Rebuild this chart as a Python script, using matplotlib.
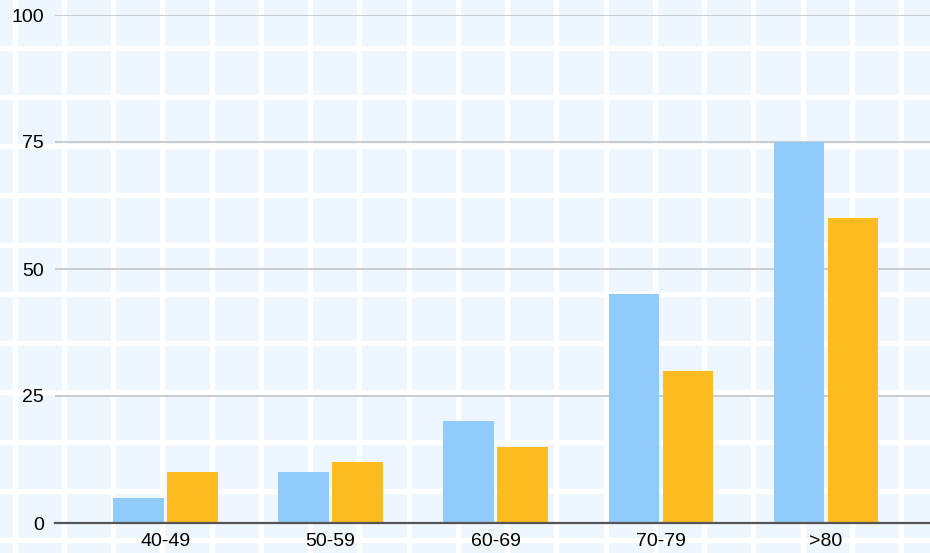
import numpy as np
import matplotlib.pyplot as plt

categories = ['40-49', '50-59', '60-69', '70-79', '>80']
series_a = [5, 10, 20, 45, 75]
series_b = [10, 12, 15, 30, 60]
y_ticks = [0, 25, 50, 75, 100]


def main():
    plt.rcParams['font.family'] = ['Liberation Sans', 'DejaVu Sans']
    fig = plt.figure(figsize=(9.3, 5.53), dpi=100)
    fig.patch.set_facecolor('white')

    # grid-paper background over the whole figure
    bg = fig.add_axes([0, 0, 1, 1], zorder=0)
    bg.set_xlim(0, 930)
    bg.set_ylim(553, 0)
    bg.set_facecolor('#eef6fe')
    step = 49.25
    for k in range(-1, 21):
        bg.axvline(14.5 + k * step, color='white', lw=3.8)
    for k in range(-1, 12):
        bg.axhline(47.5 + k * step, color='white', lw=3.8)
    for s in bg.spines.values():
        s.set_visible(False)
    bg.set_xticks([])
    bg.set_yticks([])

    ax = fig.add_axes([55 / 930, 30 / 553, 875 / 930, 508 / 553], zorder=1)
    ax.patch.set_alpha(0)
    x = np.arange(len(categories))
    w = 0.306
    off = 0.1635
    ax.bar(x - off, series_a, w, color='#90cbfb', zorder=3)
    ax.bar(x + off, series_b, w, color='#ffbc20', zorder=3)

    ax.set_xlim(-0.669, 4.63)
    ax.set_ylim(0, 100)
    ax.set_yticks(y_ticks)
    ax.set_xticks(x)
    ax.set_xticklabels(categories)
    ax.yaxis.grid(True, color='#c8c8c8', lw=1.3, zorder=1)
    ax.tick_params(axis='both', length=0, labelsize=14, colors='black')
    ax.tick_params(axis='y', pad=8)
    ax.tick_params(axis='x', pad=7)
    for s in ['top', 'right', 'left']:
        ax.spines[s].set_visible(False)
    ax.spines['bottom'].set_color('#555555')
    ax.spines['bottom'].set_linewidth(1.6)
    ax.spines['bottom'].set_zorder(4)

    fig.savefig('out.png', dpi=100)


if __name__ == "__main__":
    main()
